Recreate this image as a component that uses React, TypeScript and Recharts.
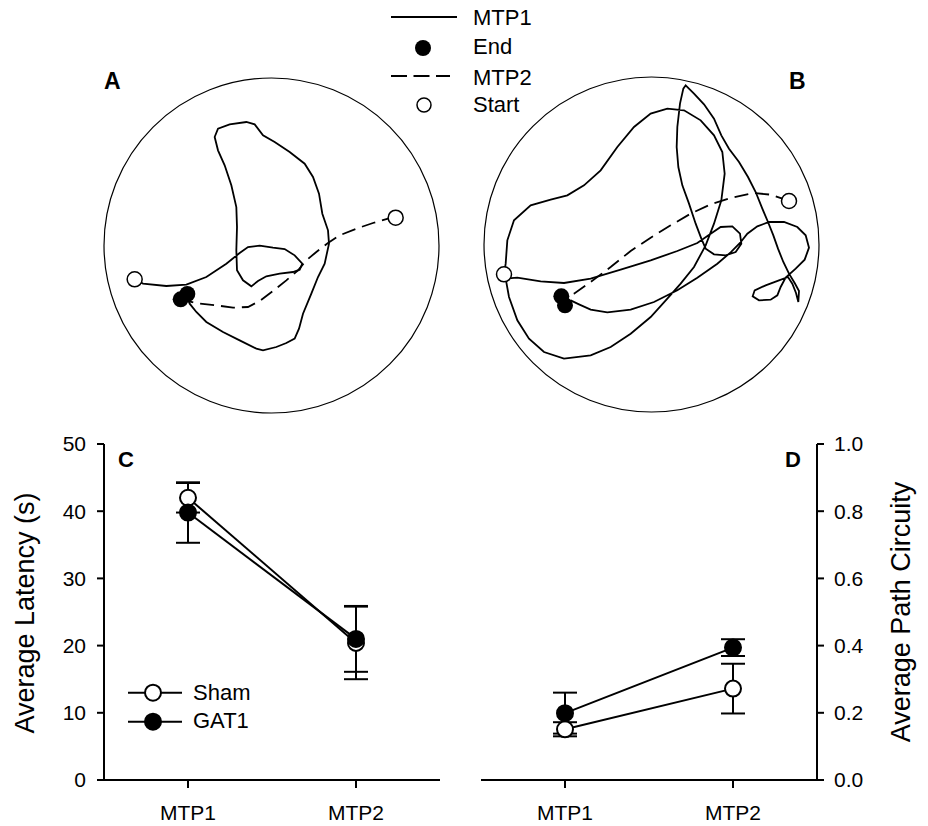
import {
  ScatterChart, Scatter, LineChart, Line, XAxis, YAxis, ErrorBar, ReferenceDot, Legend,
} from "recharts";

const FONT = '"Liberation Sans", Arial, sans-serif';

// swim tracks, in % of pool diameter (x right, y down)
const trackA1: [number, number][] = [
  [9.2, 60.4], [11.7, 61.7], [18.7, 62.4], [24.7, 62.0], [30.7, 59.7], [36.7, 55.7], [40.7, 52.5],
  [43.2, 50.7], [46.7, 50.3], [50.7, 50.9], [54.2, 51.3], [57.2, 53.2], [59.5, 55.7], [58.7, 57.5],
  [56.7, 58.2], [52.7, 58.7], [48.7, 59.5], [46.2, 60.9], [44.2, 62.5], [41.7, 60.7], [39.9, 57.7],
  [39.7, 51.7], [39.9, 44.7], [39.7, 38.7], [38.2, 32.2], [36.2, 26.2], [34.2, 21.7], [33.2, 17.7],
  [34.2, 15.2], [37.7, 13.9], [42.7, 13.2], [45.2, 13.9], [47.7, 17.2], [51.2, 19.2], [55.7, 22.2],
  [60.2, 25.7], [62.7, 29.7], [64.5, 34.7], [65.5, 40.7], [67.2, 45.7], [67.5, 49.7], [66.2, 55.7],
  [64.2, 59.7], [62.2, 64.7], [59.7, 70.7], [58.5, 75.2], [57.2, 78.2], [54.7, 79.5], [51.7, 80.7],
  [47.7, 81.7], [45.7, 81.2], [40.7, 78.7], [35.7, 76.2], [30.7, 73.2], [27.7, 70.2], [25.7, 67.7],
  [25.0, 66.0],
];
const trackA2: [number, number][] = [
  [87.5, 41.9], [85.2, 42.2], [80.7, 43.5], [75.7, 45.2], [70.7, 47.2], [67.2, 49.5], [63.7, 52.2],
  [60.7, 54.7], [58.2, 57.7], [54.7, 60.7], [50.7, 63.9], [46.7, 66.9], [43.2, 68.7], [38.7, 68.9],
  [33.7, 68.2], [28.7, 67.7], [25.5, 67.0],
];
const startsA: [number, number][] = [[9.2, 60.4], [87.5, 41.9]];
const endsA: [number, number][] = [[23.0, 66.4], [25.0, 64.8]];

const trackB1: [number, number][] = [
  [6.0, 59.2], [6.5, 56.0], [7.0, 49.0], [9.0, 43.0], [14.0, 38.5], [20.0, 36.8], [25.0, 35.5],
  [30.0, 32.5], [35.0, 28.0], [40.0, 21.0], [45.0, 15.0], [50.0, 11.0], [55.0, 9.5], [60.0, 10.0],
  [65.0, 13.0], [69.0, 17.5], [71.5, 22.5], [72.2, 29.0], [71.2, 37.0], [69.0, 44.0], [66.5, 50.5],
  [63.0, 57.0], [59.0, 62.0], [55.0, 66.5], [50.0, 72.0], [44.0, 77.0], [38.0, 81.0], [32.0, 83.5],
  [24.0, 84.5], [18.0, 82.5], [13.5, 78.5], [10.0, 73.0], [7.5, 66.0], [6.5, 60.5], [10.0, 60.2],
  [17.0, 61.3], [24.0, 61.8], [32.0, 60.5], [41.0, 57.8], [50.0, 55.0], [58.0, 52.2], [64.0, 49.8],
  [68.0, 47.0], [71.0, 45.0], [74.5, 44.8], [76.8, 47.0], [77.2, 50.0], [75.5, 52.5], [72.5, 53.5],
  [69.0, 53.2], [66.5, 51.5], [65.2, 48.5], [63.5, 44.0], [61.5, 38.0], [59.5, 32.5], [58.3, 27.0],
  [57.8, 21.0], [58.0, 15.0], [58.8, 8.0], [59.8, 3.5], [60.5, 2.5], [63.0, 5.0], [66.0, 8.2],
  [69.0, 12.5], [71.2, 17.5], [73.5, 21.5], [76.5, 25.5], [79.2, 30.0], [81.5, 34.5], [83.5, 39.5],
  [85.2, 43.5], [86.8, 47.5], [88.2, 51.5], [89.8, 55.5], [91.5, 59.0], [93.2, 61.8], [94.5, 64.2],
  [94.3, 67.5], [93.6, 64.8], [92.5, 62.0], [91.2, 60.0], [88.5, 61.0], [84.5, 62.5], [81.2, 64.0],
  [80.6, 65.8], [82.5, 67.0], [86.0, 66.8], [88.0, 65.5], [89.0, 63.0], [90.5, 60.2], [93.5, 57.5],
  [96.2, 54.8], [97.5, 51.2], [96.5, 47.5], [94.0, 45.0], [90.0, 43.5], [85.5, 43.5], [82.0, 44.8],
  [79.0, 47.0], [76.8, 49.8], [74.0, 52.6], [70.0, 56.0], [64.0, 60.2], [58.0, 64.0], [51.0, 67.5],
  [44.0, 69.8], [37.0, 70.6], [32.0, 69.8], [28.5, 68.2], [26.0, 67.0],
];
const trackB2: [number, number][] = [
  [91.5, 37.2], [89.5, 36.5], [86.0, 35.3], [81.0, 34.8], [74.0, 36.3], [68.0, 38.2], [62.0, 41.0],
  [56.0, 44.5], [50.0, 48.2], [44.0, 52.2], [38.0, 57.0], [32.0, 61.5], [27.0, 65.0], [24.5, 65.8],
];
const startsB: [number, number][] = [[6.0, 59.2], [91.5, 37.2]];
const endsB: [number, number][] = [[23.2, 65.8], [24.3, 68.5]];

// summary data
const phases = ["MTP1", "MTP2"];
const groups = ["Sham", "GAT1"];
const latencySham = [42.0, 20.4];
const latencyShamErr = [2.2, 5.4];
const latencyGat1 = [39.8, 21.0];
const latencyGat1Err = [4.5, 4.9];
const circuitySham = [0.151, 0.272];
const circuityShamErr = [0.021, 0.074];
const circuityGat1 = [0.199, 0.394];
const circuityGat1Err = [0.061, 0.025];
const latencyTicks = [0, 10, 20, 30, 40, 50];
const circuityTicks = [0, 0.2, 0.4, 0.6, 0.8, 1.0];

const pts = (arr: [number, number][]) => arr.map(([x, y]) => ({ x, y }));

const latencyRows = phases.map((p, i) => ({
  phase: p, sham: latencySham[i], shamErr: latencyShamErr[i], gat1: latencyGat1[i], gat1Err: latencyGat1Err[i],
}));
const circuityRows = phases.map((p, i) => ({
  phase: p, sham: circuitySham[i], shamErr: circuityShamErr[i], gat1: circuityGat1[i], gat1Err: circuityGat1Err[i],
}));

const noShape = () => <g />;
const startShape = (p: any) => <circle cx={p.cx} cy={p.cy} r={7.5} fill="#fff" stroke="#000" strokeWidth={1.5} />;
const endShape = (p: any) => <circle cx={p.cx} cy={p.cy} r={8} fill="#000" />;

const Pool = ({ t1, t2, starts, ends }: any) => (
  <ScatterChart width={345} height={345} margin={{ top: 5, right: 5, bottom: 5, left: 5 }}>
    <XAxis type="number" dataKey="x" domain={[0, 100.5]} hide />
    <YAxis type="number" dataKey="y" domain={[0, 100.5]} reversed hide />
    <ReferenceDot x={50.25} y={50.25} r={167.5} fill="none" stroke="#000" strokeWidth={1.2} />
    <Scatter data={pts(t1)} shape={noShape} line={{ stroke: "#000", strokeWidth: 1.8 }} isAnimationActive={false} />
    <Scatter data={pts(t2)} shape={noShape} line={{ stroke: "#000", strokeWidth: 1.8, strokeDasharray: "14 7" }} isAnimationActive={false} />
    <Scatter data={pts(ends)} shape={endShape} isAnimationActive={false} />
    <Scatter data={pts(starts)} shape={startShape} isAnimationActive={false} />
  </ScatterChart>
);

const axisStyle = { stroke: "#000", strokeWidth: 2 };
const tickStyle = { fill: "#000", fontSize: 21, fontFamily: FONT };
const openDot = { r: 8, fill: "#fff", stroke: "#000", strokeWidth: 2 };
const filledDot = { r: 8, fill: "#000", stroke: "#000", strokeWidth: 2 };

const GroupLegend = () => (
  <svg width={140} height={60} style={{ overflow: "visible" }}>
    {groups.map((g, i) => (
      <g key={g}>
        <line x1={8} x2={62} y1={12.7 + i * 29} y2={12.7 + i * 29} stroke="#000" strokeWidth={2} />
        <circle cx={33} cy={12.7 + i * 29} r={8} fill={i === 0 ? "#fff" : "#000"} stroke="#000" strokeWidth={2} />
        <text x={73} y={20 + i * 28.3} fontSize={22} fontFamily={FONT} fill="#000">{g}</text>
      </g>
    ))}
  </svg>
);

const App = () => {
  return (
    <div style={{ position: "absolute", left: 0, top: 0, width: 928, height: 826, background: "#fff" }}>
      <div style={{ position: "absolute", left: 99, top: 72.7 }}>
        <Pool t1={trackA1} t2={trackA2} starts={startsA} ends={endsA} />
      </div>
      <div style={{ position: "absolute", left: 479, top: 71.7 }}>
        <Pool t1={trackB1} t2={trackB2} starts={startsB} ends={endsB} />
      </div>

      {/* C: latency */}
      <div style={{ position: "absolute", left: 0, top: 420 }}>
        <LineChart width={464} height={406} data={latencyRows} margin={{ top: 24, right: 24, bottom: 6, left: 44 }}>
          <XAxis dataKey="phase" padding={{ left: 84, right: 84 }} height={40} tickSize={8} tickMargin={17}
            axisLine={axisStyle} tickLine={axisStyle} tick={tickStyle} />
          <YAxis domain={[0, 50]} ticks={latencyTicks} width={60} tickSize={7} tickMargin={11}
            axisLine={axisStyle} tickLine={axisStyle} tick={tickStyle} />
          <Legend layout="vertical" align="center" verticalAlign="middle" content={GroupLegend}
            wrapperStyle={{ left: 120, top: 260, width: 140, height: 60 }} />
          <Line dataKey="sham" name="Sham" stroke="#000" strokeWidth={2} dot={openDot} isAnimationActive={false}>
            <ErrorBar dataKey="shamErr" width={12} stroke="#000" strokeWidth={2} direction="y" />
          </Line>
          <Line dataKey="gat1" name="GAT1" stroke="#000" strokeWidth={2} dot={filledDot} isAnimationActive={false}>
            <ErrorBar dataKey="gat1Err" width={12} stroke="#000" strokeWidth={2} direction="y" />
          </Line>
        </LineChart>
      </div>

      {/* D: path circuity */}
      <div style={{ position: "absolute", left: 464, top: 420 }}>
        <LineChart width={464} height={406} data={circuityRows} margin={{ top: 24, right: 51, bottom: 6, left: 17 }}>
          <XAxis dataKey="phase" padding={{ left: 84, right: 84 }} height={40} tickSize={8} tickMargin={17}
            axisLine={axisStyle} tickLine={axisStyle} tick={tickStyle} />
          <YAxis orientation="right" domain={[0, 1]} ticks={circuityTicks} width={60} tickSize={7} tickMargin={10}
            tickFormatter={(v: number) => v.toFixed(1)} axisLine={axisStyle} tickLine={axisStyle} tick={{ ...tickStyle, textAnchor: "start" }} />
          <Line dataKey="sham" name="Sham" stroke="#000" strokeWidth={2} dot={openDot} isAnimationActive={false}>
            <ErrorBar dataKey="shamErr" width={12} stroke="#000" strokeWidth={2} direction="y" />
          </Line>
          <Line dataKey="gat1" name="GAT1" stroke="#000" strokeWidth={2} dot={filledDot} isAnimationActive={false}>
            <ErrorBar dataKey="gat1Err" width={12} stroke="#000" strokeWidth={2} direction="y" />
          </Line>
        </LineChart>
      </div>

      {/* labels and track legend */}
      <svg width={928} height={826} style={{ position: "absolute", left: 0, top: 0, pointerEvents: "none" }}
        fontFamily={FONT}>
        <text x={104} y={89} fontSize={23} fontWeight="bold">A</text>
        <text x={789} y={89} fontSize={23} fontWeight="bold">B</text>
        <text x={118} y={467} fontSize={22} fontWeight="bold">C</text>
        <text x={785} y={467} fontSize={22} fontWeight="bold">D</text>
        <text transform="translate(34,613) rotate(-90)" textAnchor="middle" fontSize={27}>Average Latency (s)</text>
        <text transform="translate(910,612) rotate(-90)" textAnchor="middle" fontSize={27}>Average Path Circuity</text>

        <line x1={391} x2={457} y1={17} y2={17} stroke="#000" strokeWidth={2} />
        <circle cx={423} cy={48} r={8} fill="#000" />
        <line x1={391} x2={450} y1={76} y2={76} stroke="#000" strokeWidth={2} strokeDasharray="16 6.5" />
        <circle cx={424} cy={105} r={7} fill="#fff" stroke="#000" strokeWidth={1.5} />
        <text x={473} y={25} fontSize={22}>MTP1</text>
        <text x={473} y={54} fontSize={22}>End</text>
        <text x={473} y={85} fontSize={22}>MTP2</text>
        <text x={473} y={112} fontSize={22}>Start</text>
      </svg>
    </div>
  );
};

export default App;
